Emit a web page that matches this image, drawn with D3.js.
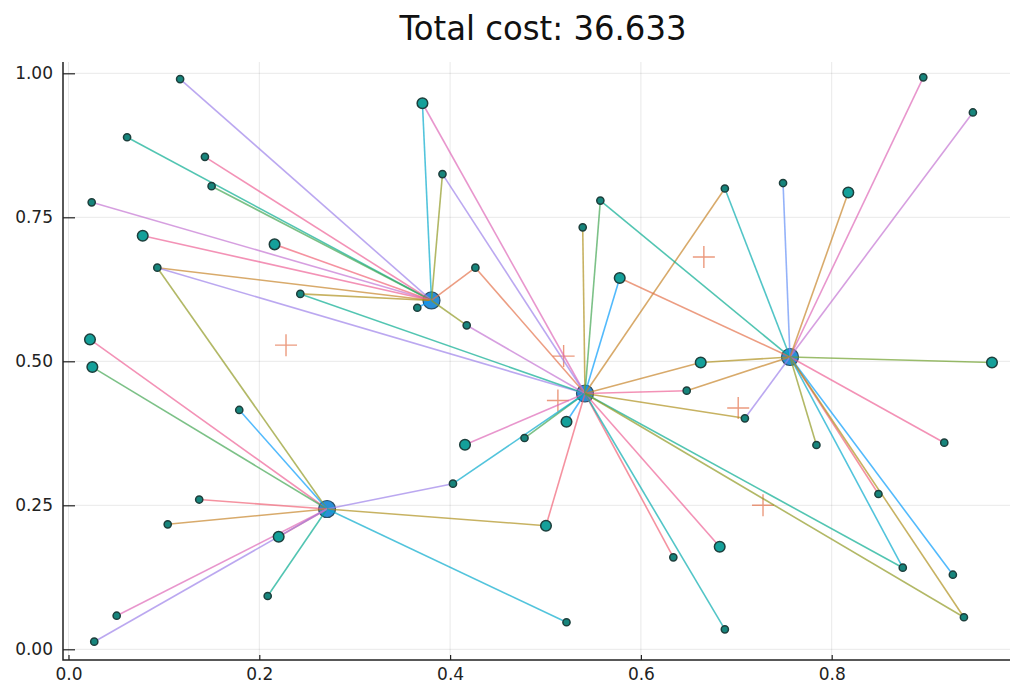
<!DOCTYPE html>
<html>
<head>
<meta charset="utf-8">
<script src="https://cdn.jsdelivr.net/npm/d3@7"></script>
<style>
  html, body { margin: 0; padding: 0; background: #fff; }
  svg { display: block; }
  text { font-family: "DejaVu Sans", sans-serif; fill: #222; }
</style>
</head>
<body>
<svg id="chart" width="1012" height="689"></svg>
<script>
// ---- facility candidates ----
const facilityX = [0.3805, 0.271, 0.5414, 0.7563, 0.228, 0.666, 0.519, 0.513, 0.702, 0.728];
const facilityY = [0.6056, 0.2436, 0.4441, 0.5075, 0.528, 0.681, 0.509, 0.432, 0.419, 0.250];
const facilityOpen = [true, true, true, true, false, false, false, false, false, false];

// ---- customers ----
const customerX = [
  0.117, 0.0614, 0.143, 0.150, 0.0243, 0.0778, 0.216, 0.0931, 0.243, 0.0225,
  0.025, 0.371, 0.392, 0.4265, 0.4174, 0.3656, 0.539, 0.5575, 0.5778, 0.896,
  0.948, 0.688, 0.749, 0.8174, 0.6627, 0.968, 0.179, 0.137, 0.104, 0.2203,
  0.2088, 0.0505, 0.027, 0.4156, 0.478, 0.403, 0.522, 0.5005, 0.522, 0.648,
  0.709, 0.784, 0.918, 0.849, 0.6826, 0.634, 0.688, 0.8745, 0.927, 0.9386
];
const customerY = [
  0.990, 0.889, 0.855, 0.804, 0.776, 0.718, 0.703, 0.6625, 0.617, 0.538,
  0.490, 0.948, 0.825, 0.6625, 0.5625, 0.593, 0.7326, 0.779, 0.6446, 0.993,
  0.932, 0.800, 0.8095, 0.793, 0.498, 0.498, 0.4155, 0.260, 0.217, 0.1955,
  0.0925, 0.0583, 0.0132, 0.355, 0.3668, 0.2875, 0.395, 0.2146, 0.047, 0.449,
  0.401, 0.3547, 0.3587, 0.2696, 0.178, 0.1597, 0.0347, 0.1417, 0.1295, 0.0556
];
const customerDemand = [
  1, 1, 1, 1, 1, 2, 2, 1, 1, 2,
  2, 2, 1, 1, 1, 1, 1, 1, 2, 1,
  1, 1, 1, 2, 2, 2, 1, 1, 1, 2,
  1, 1, 1, 2, 1, 1, 2, 2, 1, 1,
  1, 1, 1, 1, 2, 1, 1, 1, 1, 1
];

// ---- assignments: customer -> facility, with the plot series number ----
const linkCustomer = [
  0, 1, 2, 3, 4, 5, 6, 7, 8, 11, 12, 13, 14, 15,
  7, 9, 10, 26, 27, 28, 29, 30, 31, 32, 35, 37, 38,
  7, 8, 11, 12, 13, 14, 16, 17, 18, 21, 24, 33, 34, 35, 36, 37, 39, 40, 44, 45, 46, 47, 49,
  17, 18, 19, 20, 21, 22, 23, 24, 25, 39, 40, 41, 42, 43, 47, 48, 49
];
const linkFacility = [
  0, 0, 0, 0, 0, 0, 0, 0, 0, 0, 0, 0, 0, 0,
  1, 1, 1, 1, 1, 1, 1, 1, 1, 1, 1, 1, 1,
  2, 2, 2, 2, 2, 2, 2, 2, 2, 2, 2, 2, 2, 2, 2, 2, 2, 2, 2, 2, 2, 2, 2,
  3, 3, 3, 3, 3, 3, 3, 3, 3, 3, 3, 3, 3, 3, 3, 3, 3
];
const linkSeries = [
  11, 8, 6, 2, 3, 6, 13, 7, 4, 10, 9, 1, 9, 0,
  9, 6, 2, 0, 13, 7, 13, 8, 14, 11, 11, 4, 10,
  11, 8, 14, 11, 1, 3, 4, 2, 0, 7, 7, 14, 2, 10, 0, 13, 6, 4, 6, 13, 5, 8, 9,
  8, 1, 14, 3, 5, 12, 7, 4, 15, 7, 11, 9, 6, 13, 10, 0, 4
];

const palette = [
  "#009AFA", "#E36F47", "#3EA44E", "#C371D2", "#AC8E18", "#00A9AD", "#ED5E93", "#C68225",
  "#00A98D", "#8E971D", "#00A8CB", "#9B7FE9", "#618DF6", "#F05F73", "#DD64B5", "#6B9D27"
];

const xTicks = [0.0, 0.2, 0.4, 0.6, 0.8];
const yTicks = [0.00, 0.25, 0.50, 0.75, 1.00];
const totalCost = 36.633;

// ---- layout ----
const svg = d3.select("#chart");
const frame = { left: 63, right: 1010, top: 62, bottom: 660 };

const x = d3.scaleLinear().domain([0, 1]).range([68.5, 1022.5]);
const y = d3.scaleLinear().domain([0, 1]).range([649.3, 73.3]);
const r = d3.scaleLinear().domain([1, 2]).range([3.6, 5.3]);

// title
svg.append("text")
  .attr("x", 543).attr("y", 40)
  .attr("text-anchor", "middle")
  .attr("font-size", 34)
  .attr("textLength", 287)
  .attr("lengthAdjust", "spacingAndGlyphs")
  .style("fill", "#111")
  .text(`Total cost: ${totalCost.toFixed(3)}`);

// grid
const grid = svg.append("g").attr("stroke", "#000").attr("stroke-opacity", 0.09).attr("stroke-width", 1);
grid.selectAll("line.gx").data(xTicks).join("line")
  .attr("x1", d => x(d)).attr("x2", d => x(d))
  .attr("y1", frame.top).attr("y2", frame.bottom);
grid.selectAll("line.gy").data(yTicks).join("line")
  .attr("x1", frame.left).attr("x2", frame.right)
  .attr("y1", d => y(d)).attr("y2", d => y(d));

// axes
const yAxis = d3.axisLeft(y).tickValues(yTicks).tickFormat(d3.format(".2f"))
  .tickSizeInner(-12).tickSizeOuter(0).tickPadding(10);
const gy = svg.append("g").attr("transform", `translate(${frame.left},0)`).call(yAxis);
const xAxis = d3.axisBottom(x).tickValues(xTicks).tickFormat(d3.format(".1f"))
  .tickSizeInner(-5).tickSizeOuter(0).tickPadding(8);
const gx = svg.append("g").attr("transform", `translate(0,${frame.bottom})`).call(xAxis);
[gx, gy].forEach(g => {
  g.select(".domain").remove();
  g.selectAll(".tick line").attr("stroke", "#222").attr("stroke-width", 1.2);
  g.selectAll(".tick text").attr("font-size", 17).attr("font-family", "DejaVu Sans, sans-serif").style("fill", "#222");
});
svg.append("path")
  .attr("d", `M${frame.left},${frame.top}V${frame.bottom}H${frame.right}`)
  .attr("fill", "none").attr("stroke", "#222").attr("stroke-width", 1.5);

// unopened candidate sites
const closedIdx = d3.range(facilityX.length).filter(i => !facilityOpen[i]);
const cross = svg.append("g").attr("stroke", "#E36F47").attr("stroke-opacity", 0.7).attr("stroke-width", 1.4);
cross.selectAll("path").data(closedIdx).join("path")
  .attr("d", i => {
    const cx = x(facilityX[i]), cy = y(facilityY[i]), a = 11;
    return `M${cx - a},${cy}H${cx + a}M${cx},${cy - a}V${cy + a}`;
  });

// opened facilities
const openIdx = d3.range(facilityX.length).filter(i => facilityOpen[i]);
svg.append("g").selectAll("circle").data(openIdx).join("circle")
  .attr("cx", i => x(facilityX[i])).attr("cy", i => y(facilityY[i]))
  .attr("r", 8.5)
  .attr("fill", "#2a8fd6").attr("stroke", "#2b4f66").attr("stroke-width", 1.2);

// assignment lines
const links = d3.range(linkCustomer.length);
svg.append("g").attr("fill", "none").selectAll("line").data(links).join("line")
  .attr("x1", k => x(customerX[linkCustomer[k]]))
  .attr("y1", k => y(customerY[linkCustomer[k]]))
  .attr("x2", k => x(facilityX[linkFacility[k]]))
  .attr("y2", k => y(facilityY[linkFacility[k]]))
  .attr("stroke", k => palette[linkSeries[k] % palette.length])
  .attr("stroke-opacity", 0.68)
  .attr("stroke-width", 1.6);

// customers
svg.append("g").selectAll("circle").data(d3.range(customerX.length)).join("circle")
  .attr("cx", i => x(customerX[i])).attr("cy", i => y(customerY[i]))
  .attr("r", i => r(customerDemand[i]))
  .attr("fill", i => customerDemand[i] > 1 ? "#14a09a" : "#17857c")
  .attr("stroke", "#1d3f3c").attr("stroke-width", 1.5);
</script>
</body>
</html>
